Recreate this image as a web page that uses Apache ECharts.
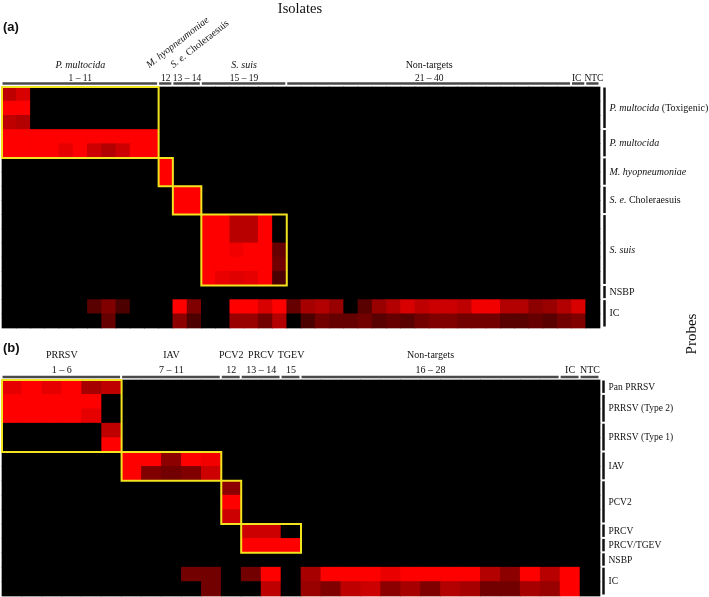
<!DOCTYPE html>
<html>
<head>
<meta charset="utf-8">
<title>Probe specificity heatmap</title>
<script src="https://cdn.jsdelivr.net/npm/echarts@6/dist/echarts.min.js"></script>
<style>
html,body{margin:0;padding:0;background:#ffffff;}
#chart{width:709px;height:597px;}
</style>
</head>
<body>
<div id="chart"></div>
<script>
// ================= Panel (a) : bacterial isolates =================
const isolatesA = ['1','2','3','4','5','6','7','8','9','10','11','12','13','14','15','16','17','18','19','20',
  '21','22','23','24','25','26','27','28','29','30','31','32','33','34','35','36','37','38','39','40','IC','NTC'];
const probeRowsA = ['Tox-1','Tox-2','Tox-3','Pm-1','Pm-2','Mh-1','Mh-2','SeC-1','SeC-2',
  'Ss-1','Ss-2','Ss-3','Ss-4','Ss-5','NSBP-a','IC-a1','IC-a2'];

// relative signal (0 = none, 1 = maximum), one array per probe row, 42 isolates each
const pmTox1 = [0.75,0.85,0,0,0,0,0,0,0,0, 0,0,0,0,0,0,0,0,0,0, 0,0,0,0,0,0,0,0,0,0, 0,0,0,0,0,0,0,0,0,0, 0,0];
const pmTox2 = [1,1,0,0,0,0,0,0,0,0, 0,0,0,0,0,0,0,0,0,0, 0,0,0,0,0,0,0,0,0,0, 0,0,0,0,0,0,0,0,0,0, 0,0];
const pmTox3 = [0.75,0.7,0,0,0,0,0,0,0,0, 0,0,0,0,0,0,0,0,0,0, 0,0,0,0,0,0,0,0,0,0, 0,0,0,0,0,0,0,0,0,0, 0,0];
const pm1    = [1,1,1,1,1,1,1,1,1,1, 1,0,0,0,0,0,0,0,0,0, 0,0,0,0,0,0,0,0,0,0, 0,0,0,0,0,0,0,0,0,0, 0,0];
const pm2    = [1,1,1,1,0.9,1,0.8,0.7,0.8,1, 1,0,0,0,0,0,0,0,0,0, 0,0,0,0,0,0,0,0,0,0, 0,0,0,0,0,0,0,0,0,0, 0,0];
const mh1    = [0,0,0,0,0,0,0,0,0,0, 0,1,0,0,0,0,0,0,0,0, 0,0,0,0,0,0,0,0,0,0, 0,0,0,0,0,0,0,0,0,0, 0,0];
const mh2    = [0,0,0,0,0,0,0,0,0,0, 0,1,0,0,0,0,0,0,0,0, 0,0,0,0,0,0,0,0,0,0, 0,0,0,0,0,0,0,0,0,0, 0,0];
const sec1   = [0,0,0,0,0,0,0,0,0,0, 0,0,1,1,0,0,0,0,0,0, 0,0,0,0,0,0,0,0,0,0, 0,0,0,0,0,0,0,0,0,0, 0,0];
const sec2   = [0,0,0,0,0,0,0,0,0,0, 0,0,1,1,0,0,0,0,0,0, 0,0,0,0,0,0,0,0,0,0, 0,0,0,0,0,0,0,0,0,0, 0,0];
const ss1    = [0,0,0,0,0,0,0,0,0,0, 0,0,0,0,1,1,0.72,0.72,1,0, 0,0,0,0,0,0,0,0,0,0, 0,0,0,0,0,0,0,0,0,0, 0,0];
const ss2    = [0,0,0,0,0,0,0,0,0,0, 0,0,0,0,1,1,0.72,0.72,1,0, 0,0,0,0,0,0,0,0,0,0, 0,0,0,0,0,0,0,0,0,0, 0,0];
const ss3    = [0,0,0,0,0,0,0,0,0,0, 0,0,0,0,1,1,0.95,1,1,0.4, 0,0,0,0,0,0,0,0,0,0, 0,0,0,0,0,0,0,0,0,0, 0,0];
const ss4    = [0,0,0,0,0,0,0,0,0,0, 0,0,0,0,1,1,1,1,1,0.45, 0,0,0,0,0,0,0,0,0,0, 0,0,0,0,0,0,0,0,0,0, 0,0];
const ss5    = [0,0,0,0,0,0,0,0,0,0, 0,0,0,0,1,0.92,0.88,0.9,1,0.3, 0,0,0,0,0,0,0,0,0,0, 0,0,0,0,0,0,0,0,0,0, 0,0];
const nsbpA  = [0,0,0,0,0,0,0,0,0,0, 0,0,0,0,0,0,0,0,0,0, 0,0,0,0,0,0,0,0,0,0, 0,0,0,0,0,0,0,0,0,0, 0,0];
const icA1   = [0,0,0,0,0,0,0.35,0.5,0.3,0, 0,0,1,0.5,0,0,1,1,0.85,1, 0.4,0.65,0.7,0.6,0,0.35,0.6,0.7,0.85,0.75, 0.8,0.8,0.75,0.95,0.95,0.7,0.7,0.55,0.6,0.7, 0.85,0];
const icA2   = [0,0,0,0,0,0,0,0.4,0,0, 0,0,0.55,0.3,0,0,0.6,0.6,0.45,0.7, 0,0.3,0.45,0.4,0.4,0.45,0.35,0.4,0.35,0.45, 0.5,0.5,0.45,0.45,0.45,0.35,0.35,0.4,0.35,0.45, 0.5,0];
const rowsA = [pmTox1,pmTox2,pmTox3,pm1,pm2,mh1,mh2,sec1,sec2,ss1,ss2,ss3,ss4,ss5,nsbpA,icA1,icA2];

const headerNamesA  = ['{i|P. multocida}','{i|M. hyopneumoniae}','{i|S. e.} Choleraesuis','{i|S. suis}','Non-targets','',''];
const headerRangesA = ['1 – 11','12','13 – 14','15 – 19','21 – 40','IC','NTC'];
const headerSpansA  = [[0,10],[11,11],[12,13],[14,19],[20,39],[40,40],[41,41]];
const headerRotA    = [false,true,true,false,false,false,false];
const sideLabelsA   = ['{i|P. multocida} (Toxigenic)','{i|P. multocida}','{i|M. hyopneumoniae}','{i|S. e.} Choleraesuis','{i|S. suis}','NSBP','IC'];
const sideSpansA    = [[0,2],[3,4],[5,6],[7,8],[9,13],[14,14],[15,16]];
const boxesA        = [[0,10,0,4],[11,11,5,6],[12,13,7,8],[14,19,9,13]];

// ================= Panel (b) : viral isolates =================
const isolatesB = ['1','2','3','4','5','6','7','8','9','10','11','12','13','14','15','16','17','18','19','20',
  '21','22','23','24','25','26','27','28','IC','NTC'];
const probeRowsB = ['PanPRRSV','T2-1','T2-2','T1-1','T1-2','IAV-1','IAV-2','PCV2-1','PCV2-2','PCV2-3',
  'PRCV','PRCV/TGEV','NSBP-b','IC-b1','IC-b2'];

const panPrrsv = [0.9,1,0.9,1,0.65,0.75,0,0,0,0, 0,0,0,0,0,0,0,0,0,0, 0,0,0,0,0,0,0,0,0,0];
const prrsvT2a = [1,1,1,1,1,0,0,0,0,0, 0,0,0,0,0,0,0,0,0,0, 0,0,0,0,0,0,0,0,0,0];
const prrsvT2b = [1,1,1,1,0.9,0,0,0,0,0, 0,0,0,0,0,0,0,0,0,0, 0,0,0,0,0,0,0,0,0,0];
const prrsvT1a = [0,0,0,0,0,0.75,0,0,0,0, 0,0,0,0,0,0,0,0,0,0, 0,0,0,0,0,0,0,0,0,0];
const prrsvT1b = [0,0,0,0,0,1,0,0,0,0, 0,0,0,0,0,0,0,0,0,0, 0,0,0,0,0,0,0,0,0,0];
const iavA     = [0,0,0,0,0,0,1,1,0.55,1, 0.95,0,0,0,0,0,0,0,0,0, 0,0,0,0,0,0,0,0,0,0];
const iavB     = [0,0,0,0,0,0,1,0.5,0.45,0.5, 0.8,0,0,0,0,0,0,0,0,0, 0,0,0,0,0,0,0,0,0,0];
const pcv2a    = [0,0,0,0,0,0,0,0,0,0, 0,0.55,0,0,0,0,0,0,0,0, 0,0,0,0,0,0,0,0,0,0];
const pcv2b    = [0,0,0,0,0,0,0,0,0,0, 0,1,0,0,0,0,0,0,0,0, 0,0,0,0,0,0,0,0,0,0];
const pcv2c    = [0,0,0,0,0,0,0,0,0,0, 0,0.8,0,0,0,0,0,0,0,0, 0,0,0,0,0,0,0,0,0,0];
const prcv     = [0,0,0,0,0,0,0,0,0,0, 0,0,0.8,0.8,0,0,0,0,0,0, 0,0,0,0,0,0,0,0,0,0];
const prcvTgev = [0,0,0,0,0,0,0,0,0,0, 0,0,1,1,1,0,0,0,0,0, 0,0,0,0,0,0,0,0,0,0];
const nsbpB    = [0,0,0,0,0,0,0,0,0,0, 0,0,0,0,0,0,0,0,0,0, 0,0,0,0,0,0,0,0,0,0];
const icB1     = [0,0,0,0,0,0,0,0,0,0.45, 0.45,0,0.45,1,0,0.65,1,1,1,0.92, 1,1,1,1,0.7,0.55,1,0.72,1,0];
const icB2     = [0,0,0,0,0,0,0,0,0,0, 0.45,0,0,0.75,0,0.6,0.5,0.75,0.8,0.55, 0.65,0.5,0.7,0.65,0.45,0.45,0.65,0.6,1,0];
const rowsB = [panPrrsv,prrsvT2a,prrsvT2b,prrsvT1a,prrsvT1b,iavA,iavB,pcv2a,pcv2b,pcv2c,prcv,prcvTgev,nsbpB,icB1,icB2];

const headerNamesB  = ['PRRSV','IAV','PCV2','PRCV','TGEV','Non-targets','',''];
const headerRangesB = ['1 – 6','7 – 11','12','13 – 14','15','16 – 28','IC','NTC'];
const headerSpansB  = [[0,5],[6,10],[11,11],[12,13],[14,14],[15,27],[28,28],[29,29]];
const headerRotB    = [false,false,false,false,false,false,false,false];
const sideLabelsB   = ['Pan PRRSV','PRRSV (Type 2)','PRRSV (Type 1)','IAV','PCV2','PRCV','PRCV/TGEV','NSBP','IC'];
const sideSpansB    = [[0,0],[1,2],[3,4],[5,6],[7,9],[10,10],[11,11],[12,12],[13,14]];
const boxesB        = [[0,5,0,4],[6,10,5,6],[11,11,7,9],[12,14,10,11]];

// ================= build =================
const SERIF = "'Liberation Serif','Times New Roman',serif";
const SANS = "'Liberation Sans',Arial,sans-serif";

function toCells(rows){
  const out = [];
  rows.forEach((row, r) => row.forEach((v, c) => out.push([c, r, v])));
  return out;
}

// heat cell: drawn through the axes, slightly overlapped to avoid seams
function cellItem(params, api){
  const p = api.coord([api.value(0), api.value(1)]);
  const s = api.size([1, 1]);
  const w = Math.abs(s[0]), h = Math.abs(s[1]);
  return {
    type: 'rect',
    shape: { x: p[0] - w/2 - 0.35, y: p[1] - h/2 - 0.35, width: w + 0.7, height: h + 0.7 },
    style: { fill: api.visual('color'), stroke: null }
  };
}

function boxItem(params, api){
  const p0 = api.coord([api.value(0), api.value(2)]);
  const p1 = api.coord([api.value(1), api.value(3)]);
  const s = api.size([1, 1]);
  const w = Math.abs(s[0]), h = Math.abs(s[1]);
  return {
    type: 'rect',
    shape: { x: p0[0] - w/2, y: p0[1] - h/2, width: p1[0] - p0[0] + w, height: p1[1] - p0[1] + h },
    style: { fill: null, stroke: '#f3e31e', lineWidth: 2 }
  };
}

const chart = echarts.init(document.getElementById('chart'), null, { renderer: 'canvas' });

const hiddenCat = (data, inverse) => ({
  type: 'category', data: data, inverse: !!inverse,
  axisLine: { show: false }, axisTick: { show: false }, axisLabel: { show: false },
  splitLine: { show: false }, splitArea: { show: false }
});

chart.setOption({
  animation: false,
  backgroundColor: '#ffffff',
  grid: [
    { left: 2, top: 87, width: 598, height: 241, show: true, backgroundColor: '#000000', borderWidth: 0 },
    { left: 2, top: 380, width: 598, height: 216, show: true, backgroundColor: '#000000', borderWidth: 0 }
  ],
  xAxis: [
    Object.assign(hiddenCat(isolatesA), { gridIndex: 0 }),
    Object.assign(hiddenCat(isolatesB), { gridIndex: 1 })
  ],
  yAxis: [
    Object.assign(hiddenCat(probeRowsA, true), { gridIndex: 0 }),
    Object.assign(hiddenCat(probeRowsB, true), { gridIndex: 1 })
  ],
  visualMap: {
    show: false, type: 'continuous', min: 0, max: 1, dimension: 2, seriesIndex: [0, 1],
    inRange: { color: ['#000000', '#ff0000'] }
  },
  series: [
    { type: 'custom', name: 'panel a', xAxisIndex: 0, yAxisIndex: 0, renderItem: cellItem, data: toCells(rowsA),
      encode: { x: 0, y: 1 }, silent: true, z: 2 },
    { type: 'custom', name: 'panel b', xAxisIndex: 1, yAxisIndex: 1, renderItem: cellItem, data: toCells(rowsB),
      encode: { x: 0, y: 1 }, silent: true, z: 2 },
    { type: 'custom', xAxisIndex: 0, yAxisIndex: 0, renderItem: boxItem, data: boxesA, encode: { x: [0, 1], y: [2, 3] }, z: 5, silent: true },
    { type: 'custom', xAxisIndex: 1, yAxisIndex: 1, renderItem: boxItem, data: boxesB, encode: { x: [0, 1], y: [2, 3] }, z: 5, silent: true }
  ]
});

// ---------- annotations (brackets & labels) positioned via the axes ----------
function richFor(size){ return { i: { fontStyle: 'italic', fontFamily: SERIF, fontSize: size, fill: '#111' } }; }

function geom(gi){
  const p00 = chart.convertToPixel({ gridIndex: gi }, [0, 0]);
  const p11 = chart.convertToPixel({ gridIndex: gi }, [1, 1]);
  return { w: p11[0] - p00[0], h: p11[1] - p00[1] };
}
function colSpan(gi, c0, c1){
  const g = geom(gi);
  return [chart.convertToPixel({ gridIndex: gi }, [c0, 0])[0] - g.w/2,
          chart.convertToPixel({ gridIndex: gi }, [c1, 0])[0] + g.w/2];
}
function rowSpan(gi, r0, r1){
  const g = geom(gi);
  return [chart.convertToPixel({ gridIndex: gi }, [0, r0])[1] - g.h/2,
          chart.convertToPixel({ gridIndex: gi }, [0, r1])[1] + g.h/2];
}

const graphics = [];
function txt(x, y, text, size, opts){
  graphics.push(Object.assign({
    type: 'text', x: x, y: y, silent: true,
    style: Object.assign({ text: text, fontFamily: SERIF, fontSize: size, fill: '#111',
      align: 'center', verticalAlign: 'middle', rich: richFor(size) }, (opts && opts.style) || {})
  }, (opts && opts.el) || {}));
}
function line(x1, y1, x2, y2, w, color){
  graphics.push({ type: 'line', silent: true, shape: { x1, y1, x2, y2 },
    style: { stroke: color, lineWidth: w } });
}

function panel(gi, names, ranges, spans, rots, sides, sideSpans, cfg){
  const top = rowSpan(gi, 0, 0)[0];
  const right = colSpan(gi, 0, (gi === 0 ? isolatesA.length : isolatesB.length) - 1)[1];
  spans.forEach((sp, k) => {
    const [x0, x1] = colSpan(gi, sp[0], sp[1]);
    const cx = (x0 + x1) / 2;
    line(x0 + 0.5, top + cfg.lineDy, x1 - 1.5, top + cfg.lineDy, 2.5, '#4a4a4a');
    txt(cx + (cfg.rangeDx[k] || 0), top + cfg.rangeDy, ranges[k], cfg.rangeSize);
    if (names[k]) {
      if (rots[k]) {
        txt(x0 + cfg.rotDx[k], top + cfg.rotDy, names[k], cfg.headSize,
          { style: { align: 'left', verticalAlign: 'bottom' }, el: { rotation: 38 * Math.PI / 180 } });
      } else {
        txt(cx, top + cfg.nameDy, names[k], cfg.headSize);
      }
    }
  });
  sideSpans.forEach((sp, k) => {
    const [y0, y1] = rowSpan(gi, sp[0], sp[1]);
    const bx = right + cfg.sideDx;
    line(bx, y0 + 0.5, bx, y1 - 1.5, 2.5, '#111');
    txt(bx + cfg.sideTextDx, (y0 + y1) / 2, sides[k], cfg.sideSize, { style: { align: 'left' } });
  });
}

panel(0, headerNamesA, headerRangesA, headerSpansA, headerRotA, sideLabelsA, sideSpansA,
  { lineDy: -3.5, rangeDy: -9, nameDy: -22, rotDy: -17, rotDx: [0, -8, 2], headSize: 10, rangeSize: 9.5,
    rangeDx: [0, 0, 0, 0, 0, -2, 1], sideDx: 4.5, sideTextDx: 5, sideSize: 10 });
panel(1, headerNamesB, headerRangesB, headerSpansB, headerRotB, sideLabelsB, sideSpansB,
  { lineDy: -3, rangeDy: -10, nameDy: -25, rotDy: 0, rotDx: [], headSize: 10, rangeSize: 10,
    rangeDx: [], sideDx: 3.5, sideTextDx: 5, sideSize: 9.5 });

// titles
txt(300, 9, 'Isolates', 14.5);
txt(692, 334, 'Probes', 15, { el: { rotation: Math.PI / 2 } });
txt(3, 27, '(a)', 13, { style: { align: 'left', fontFamily: SANS, fontWeight: 'bold' } });
txt(3, 348, '(b)', 13, { style: { align: 'left', fontFamily: SANS, fontWeight: 'bold' } });

chart.setOption({ graphic: { elements: graphics } });
</script>
</body>
</html>
